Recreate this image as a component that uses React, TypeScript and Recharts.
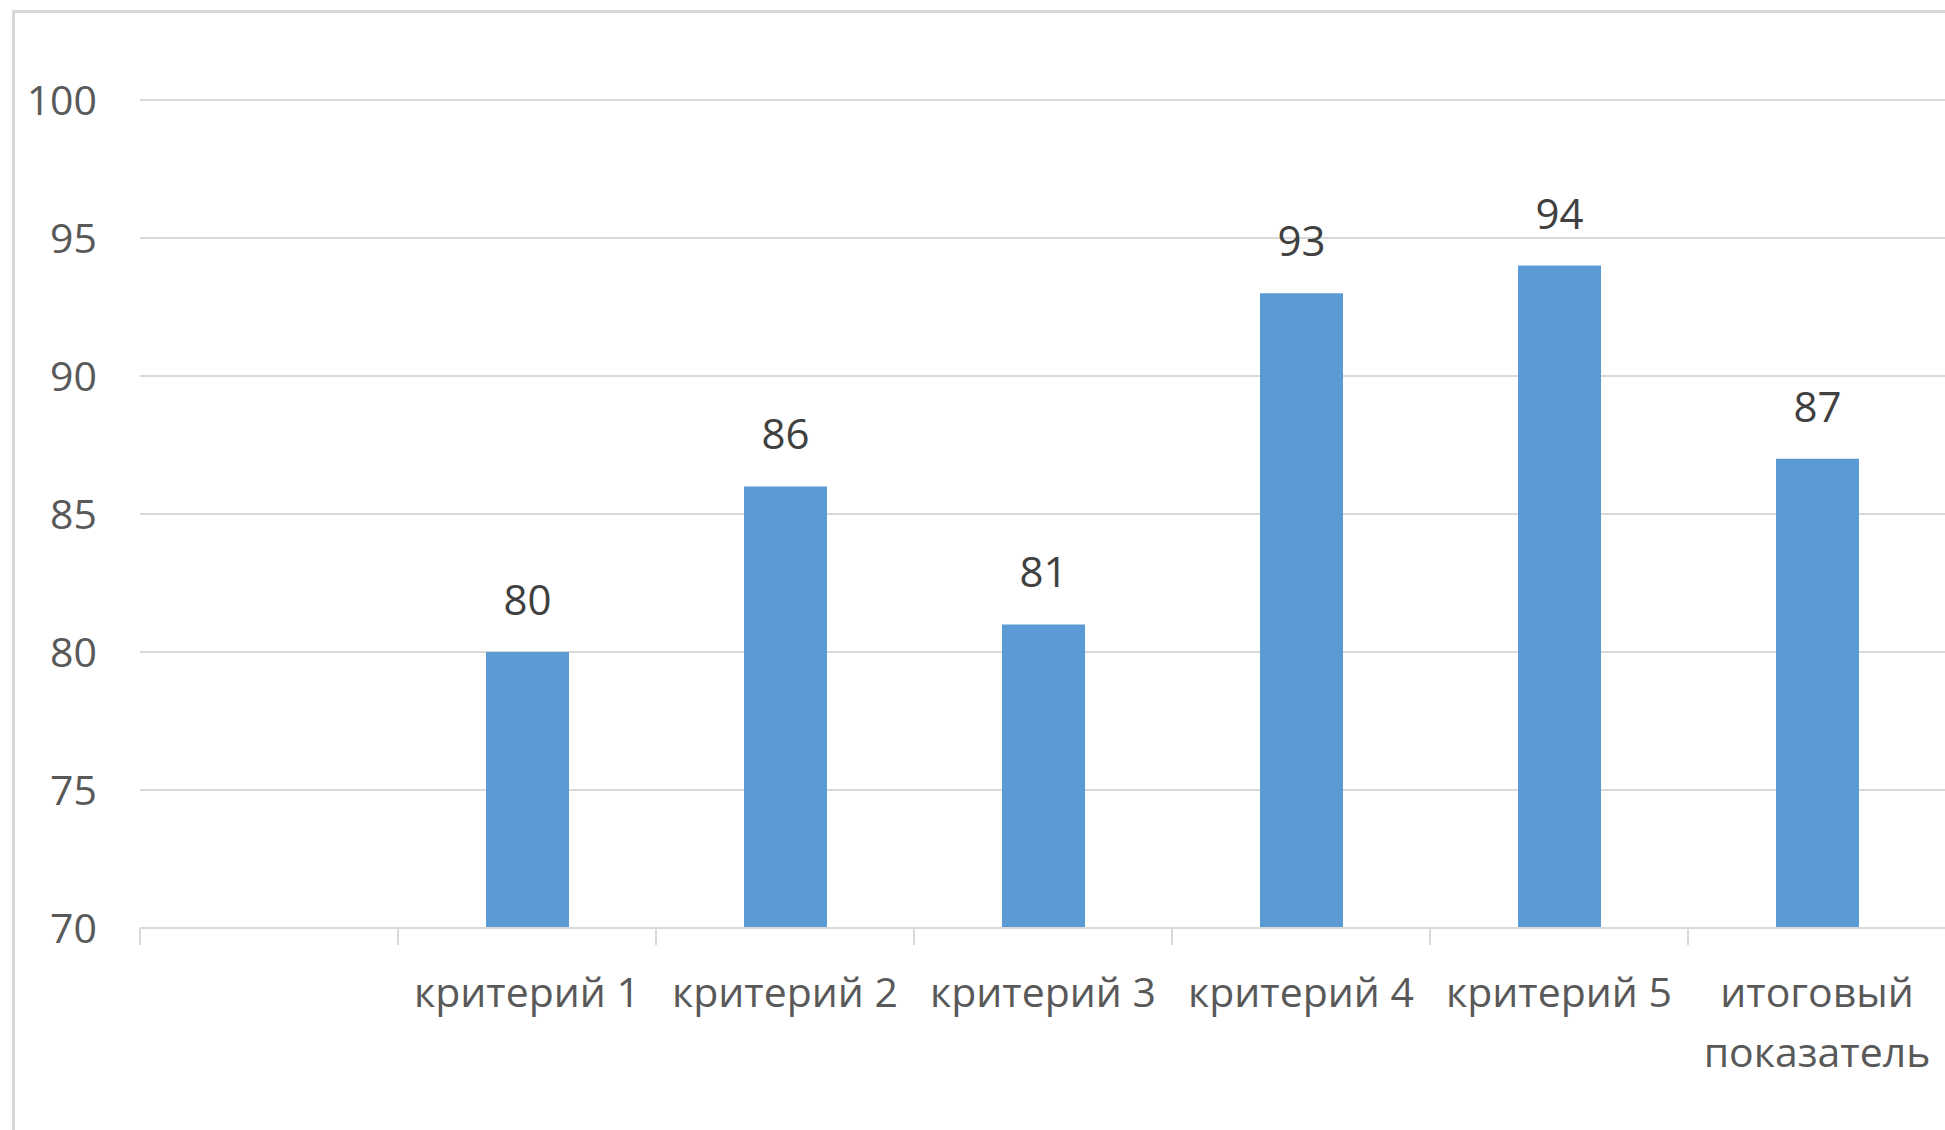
import { Bar, BarChart, CartesianGrid, LabelList, XAxis, YAxis } from "recharts"

const categories = ['', 'критерий 1', 'критерий 2', 'критерий 3', 'критерий 4', 'критерий 5', 'итоговый\nпоказатель']
const scores = [null, 80, 86, 81, 93, 94, 87]
const yTicks = [70, 75, 80, 85, 90, 95, 100]

const CHART_W = 1946
const CHART_H = 1130
const Y_AXIS_W = 140
const BAND = (CHART_W - Y_AXIS_W) / categories.length

const chartData = categories.map((name, i) => ({ name, value: scores[i] }))

function CategoryTick(props: any) {
  const { x, y, payload } = props
  const lines = String(payload.value).split('\n')
  const edge = x - BAND / 2
  return (
    <g>
      <line x1={edge} x2={edge} y1={y} y2={y + 17} stroke="#d9d9d9" strokeWidth={2} />
      <text x={x} y={y + 79} textAnchor="middle" fill="#595959" fontSize={41}>
        {lines.map((line, i) => (
          <tspan key={i} x={x} dy={i === 0 ? 0 : 60}>{line}</tspan>
        ))}
      </text>
    </g>
  )
}

export default function App() {
  return (
    <div
      style={{
        position: 'absolute',
        left: 0,
        top: 0,
        width: 1945,
        height: 1130,
        overflow: 'hidden',
        background: '#fff',
        fontFamily: '"Open Sans", sans-serif',
      }}
    >
      <div
        style={{
          position: 'absolute',
          left: 12,
          top: 10,
          width: 2100,
          height: 1300,
          border: '3px solid #d9d9d9',
          boxSizing: 'border-box',
        }}
      />
      <div style={{ position: 'absolute', left: 0, top: 0 }}>
        <BarChart
          width={CHART_W}
          height={CHART_H}
          data={chartData}
          margin={{ top: 100, right: 0, bottom: 0, left: 0 }}
        >
          <CartesianGrid vertical={false} stroke="#d9d9d9" strokeWidth={2} />
          <XAxis
            dataKey="name"
            height={202}
            interval={0}
            axisLine={{ stroke: '#d9d9d9', strokeWidth: 2 }}
            tickLine={false}
            tickSize={0}
            tickMargin={0}
            tick={<CategoryTick />}
          />
          <YAxis
            width={Y_AXIS_W}
            domain={[70, 100]}
            ticks={yTicks}
            axisLine={false}
            tickLine={false}
            tickSize={0}
            tickMargin={43}
            tick={{ fill: '#595959', fontSize: 41 }}
          />
          <Bar dataKey="value" fill="#5B9BD5" barSize={83} isAnimationActive={false}>
            <LabelList dataKey="value" position="top" offset={37} fill="#404040" fontSize={42} />
          </Bar>
        </BarChart>
      </div>
    </div>
  )
}
